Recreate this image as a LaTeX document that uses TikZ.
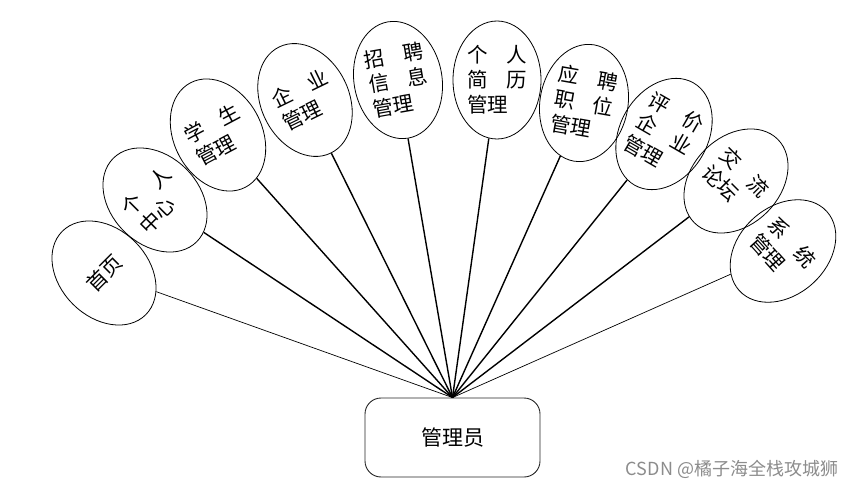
\documentclass[tikz,border=0pt]{standalone}
\usepackage{fontspec}
\setmainfont{Noto Sans CJK SC}
\usetikzlibrary{shapes.geometric}
\tikzset{
  bubble/.style={draw=black, line width=0.8pt, ellipse, minimum width=88pt,
    minimum height=118pt, inner sep=0pt, align=left,
    font=\fontsize{20.5}{25}\selectfont},
  thinlink/.style={line width=0.7pt},
  thicklink/.style={line width=1.4pt},
}
\newcommand{\gp}{\hspace{0.9em}}
\begin{document}
\begin{tikzpicture}[x=1pt, y=1pt]
  \useasboundingbox (0,0) rectangle (862,-489);
  % functions of the admin, left to right
  \node[bubble, rotate=45]  (home)    at (104,-273) {首页};
  \node[bubble, rotate=45]  (center)  at (155,-200) {个\gp 人\\中心};
  \node[bubble, rotate=28]  (student) at (218,-135) {学\gp 生\\管理};
  \node[bubble, rotate=26]  (company) at (305,-100) {企\gp 业\\管理};
  \node[bubble, rotate=10]  (recruit) at (398,-80)  {招\gp 聘\\信\gp 息\\管理};
  \node[bubble]             (resume)  at (497,-80)  {个\gp 人\\简\gp 历\\管理};
  \node[bubble, rotate=-10] (apply)   at (584,-103) {应\gp 聘\\职\gp 位\\管理};
  \node[bubble, rotate=-30] (review)  at (664,-134) {评\gp 价\\企\gp 业\\管理};
  \node[bubble, rotate=-45] (forum)   at (736,-181) {交\gp 流\\论坛};
  \node[bubble, rotate=-48] (system)  at (783,-251) {系\gp 统\\管理};
  % actor box
  \node[draw=black!85, line width=0.9pt, rounded corners=16pt,
    minimum width=175pt, minimum height=79pt,
    font=\fontsize{21}{25}\selectfont] (admin) at (452.5,-437.5) {管理员};
  % links to the actor
  \draw[thinlink]  (home)    -- (admin.north);
  \draw[thicklink] (center)  -- (admin.north);
  \draw[thicklink] (student) -- (admin.north);
  \draw[thicklink] (company) -- (admin.north);
  \draw[thicklink] (recruit) -- (admin.north);
  \draw[thicklink] (resume)  -- (admin.north);
  \draw[thicklink] (apply)   -- (admin.north);
  \draw[thicklink] (review)  -- (admin.north);
  \draw[thicklink] (forum)   -- (admin.north);
  \draw[thinlink]  (system)  -- (admin.north);
  % watermark
  \node[text=black!45, font=\fontsize{18}{21}\selectfont] (mark) at (732,-469)
    {CSDN @橘子海全栈攻城狮};
\end{tikzpicture}
\end{document}
